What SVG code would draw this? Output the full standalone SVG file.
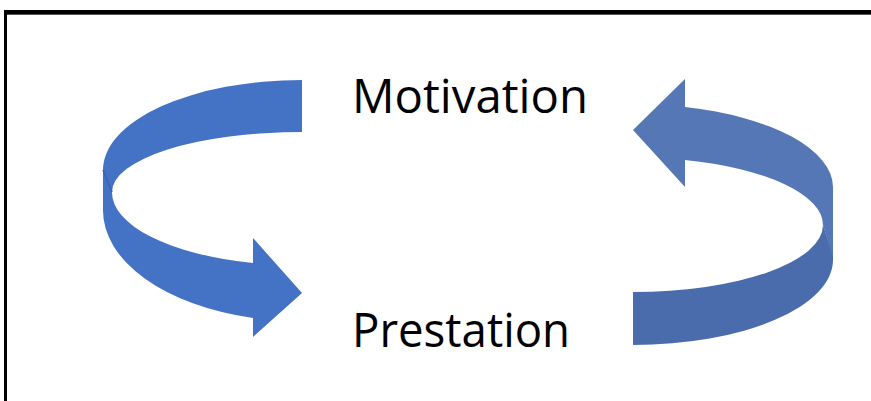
<svg xmlns="http://www.w3.org/2000/svg" width="871" height="401" viewBox="0 0 871 401">
<style>
.lbl{font-family:"Open Sans","Noto Sans","Liberation Sans",sans-serif;font-size:48px;fill:#000}
.la{fill:#4472C4}
.ru{fill:#5577B5}
.rl{fill:#4A6CAC}
</style>
<rect x="0" y="0" width="871" height="401" fill="#fff"/>
<g id="frame">
<rect x="4" y="10" width="867" height="4" fill="#000"/>
<rect x="4" y="14" width="867" height="1" fill="#555"/>
<rect x="4" y="10" width="3" height="391" fill="#000"/>
</g>
<g id="connectors">
<g id="arrow-left">
<path class="la" d="M302,80 A199,90 0 0 0 103,170 L112,192 A190,60 0 0 1 302,132 Z"/>
<path class="la" d="M103,170 L103,210 A199,111 0 0 0 253,318 L253,337 L302,293 L253,238 L253,263 A190,73 0 0 1 112,192 Z"/>
<path d="M103,170 L112,192" stroke="#3A63AE" stroke-width="1.5" fill="none"/>
</g>
<g id="arrow-right">
<path class="ru" d="M833,258 L833,187 A200,83 0 0 0 685,107 L685,79 L633,130 L685,187 L685,160 A190,67.6 0 0 1 823,225 Z"/>
<path class="rl" d="M633,345 A200,85 0 0 0 833,260 L833,256 L823,225 A190,67 0 0 1 633,292 Z"/>
</g>
</g>
<g id="node-motivation">
<text class="lbl" x="352" y="113" textLength="236" lengthAdjust="spacingAndGlyphs">Motivation</text>
</g>
<g id="node-prestation">
<text class="lbl" x="352" y="347" textLength="218" lengthAdjust="spacingAndGlyphs">Prestation</text>
</g>
</svg>
